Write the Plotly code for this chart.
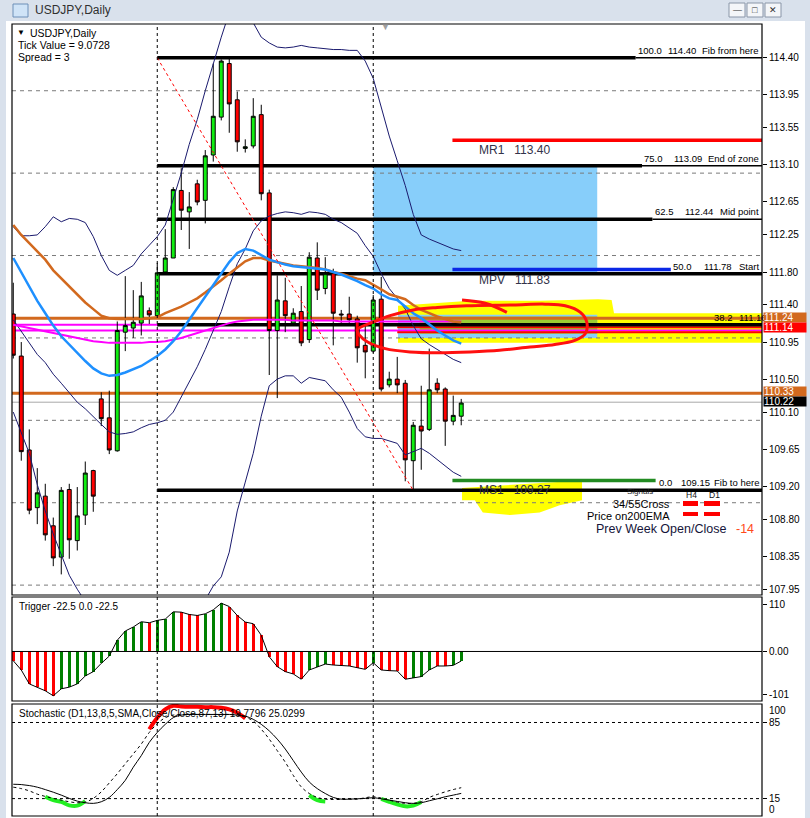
import plotly.graph_objects as go

# ---------------- DATA ----------------
idx = list(range(57))
opens = [111.29,110.78,109.64,108.94,109.08,108.72,108.34,109.16,108.54,108.85,
         109.39,110.26,110.03,109.63,111.07,111.12,111.18,111.33,111.27,111.80,
         111.97,112.79,112.53,112.87,112.67,113.22,113.68,114.33,113.89,113.30,
         113.33,113.71,112.76,111.09,111.45,111.18,111.32,110.98,111.97,111.60,
         111.78,111.29,111.29,111.23,110.91,110.84,111.47,110.43,110.50,110.45,
         109.51,109.93,109.89,110.45,110.38,109.99,110.05]
highs = [111.67,110.95,109.89,109.42,109.23,108.82,109.19,109.23,109.19,109.50,
         109.40,110.34,110.36,111.20,111.75,111.58,111.68,111.37,111.91,112.32,
         112.83,113.06,112.77,112.92,113.28,114.33,114.38,114.40,113.99,113.41,
         113.91,113.83,112.80,111.76,111.73,111.36,111.63,112.04,112.16,111.98,
         111.84,111.34,111.50,111.27,111.16,111.52,111.74,110.59,110.77,110.49,
         109.98,110.42,110.87,110.51,110.40,110.30,110.26]
lows = [110.75,109.51,108.86,108.74,108.54,108.23,108.13,108.32,108.42,108.73,
        108.89,109.93,109.59,109.62,110.84,111.00,111.03,111.17,111.27,111.78,
        111.97,112.31,112.08,112.61,112.39,113.14,113.64,113.49,113.26,113.25,
        113.30,112.67,110.55,110.27,111.07,111.15,110.90,110.94,111.46,111.53,
        110.91,111.17,111.17,110.70,110.51,110.82,110.35,110.40,110.33,109.26,
        109.15,109.40,109.87,110.33,109.69,109.94,109.94]
closes = [110.79,109.62,108.91,109.12,108.61,108.33,109.15,108.55,108.84,109.36,
          109.08,110.02,109.64,111.09,111.15,111.19,111.51,111.28,111.79,111.97,
          112.80,112.55,112.59,112.65,113.21,113.69,114.36,113.84,113.38,113.32,
          113.69,112.75,111.09,111.46,111.27,111.30,110.94,111.98,111.58,111.78,
          111.30,111.28,111.22,110.88,110.83,111.46,110.38,110.50,110.43,109.52,
          109.94,109.87,110.37,110.37,109.99,110.06,110.21]

bb_upper = [112.35,112.24,112.24,112.25,112.35,112.47,112.41,112.45,112.44,112.40,
            112.23,112.00,111.82,111.76,111.82,111.88,112.02,112.12,112.23,112.37,
            112.68,113.00,113.35,113.65,114.00,114.34,114.65,114.95,115.10,115.00,
            114.82,114.65,114.58,114.53,114.52,114.53,114.55,114.53,114.52,114.51,
            114.50,114.50,114.49,114.49,114.36,114.15,113.80,113.45,113.15,112.85,
            112.50,112.25,112.20,112.16,112.12,112.08,112.06]
bb_mid = [111.22,111.08,110.95,110.80,110.70,110.56,110.45,110.34,110.22,110.14,
          110.04,109.95,109.86,109.83,109.84,109.86,109.91,109.95,109.97,110.00,
          110.10,110.28,110.46,110.65,110.86,111.10,111.32,111.62,111.90,112.08,
          112.30,112.42,112.48,112.51,112.53,112.52,112.50,112.53,112.52,112.50,
          112.44,112.40,112.33,112.27,112.12,111.99,111.78,111.60,111.48,111.35,
          111.15,110.99,110.92,110.86,110.80,110.74,110.70]
bb_lower = [110.10,109.85,109.60,109.22,108.90,108.62,108.38,108.12,107.95,107.80,
            107.65,107.55,107.50,107.50,107.52,107.58,107.62,107.68,107.75,107.78,
            107.76,107.72,107.70,107.72,107.82,107.99,108.10,108.40,108.90,109.25,
            109.60,110.05,110.42,110.50,110.54,110.54,110.45,110.52,110.50,110.48,
            110.37,110.28,110.10,109.90,109.80,109.78,109.78,109.75,109.72,109.58,
            109.62,109.66,109.60,109.52,109.45,109.37,109.32]
ema_blue = [111.97,111.80,111.62,111.45,111.30,111.15,111.02,110.92,110.81,110.72,
            110.63,110.57,110.54,110.55,110.58,110.62,110.66,110.72,110.78,110.86,
            110.96,111.08,111.22,111.36,111.50,111.64,111.78,111.92,112.03,112.08,
            112.06,112.00,111.95,111.92,111.89,111.87,111.86,111.85,111.84,111.83,
            111.80,111.77,111.73,111.69,111.64,111.60,111.53,111.48,111.46,111.38,
            111.30,111.24,111.16,111.09,111.03,110.97,110.93]
ma_orange = [112.37,112.25,112.15,112.05,111.95,111.82,111.72,111.62,111.52,111.43,
             111.35,111.27,111.24,111.23,111.23,111.23,111.23,111.24,111.25,111.30,
             111.34,111.38,111.43,111.48,111.55,111.62,111.70,111.78,111.86,111.93,
             111.97,111.97,111.94,111.92,111.90,111.88,111.87,111.86,111.85,111.83,
             111.80,111.78,111.75,111.72,111.70,111.65,111.59,111.53,111.50,111.47,
             111.40,111.34,111.30,111.26,111.23,111.20,111.19]
ma_magenta = [111.16,111.14,111.12,111.10,111.08,111.06,111.04,111.02,111.00,110.98,
              110.96,110.95,110.94,110.94,110.94,110.94,110.94,110.95,110.95,110.96,
              110.98,111.00,111.03,111.06,111.09,111.12,111.15,111.18,111.20,111.21,
              111.22,111.22,111.22,111.22,111.22,111.21,111.21,111.21,111.21,111.21,
              111.21,111.20,111.20,111.20,111.20,111.20,111.20,111.20,111.20,111.20,
              111.20,111.20,111.20,111.20,111.20,111.20,111.20]

trigger_vals = [-21.9,-43.7,-76.5,-84.3,-92.9,-104.6,-88.2,-84.3,-76.5,-57.8,
                -47.6,-28.1,-10.9,26.5,48.4,57.8,70.3,67.9,73.4,76.5,
                93.7,92.9,87.4,85.1,89.0,98.4,114.0,106.2,85.1,69.5,
                65.6,38.3,-12.5,-35.9,-47.6,-53.1,-65.6,-43.7,-37.5,-29.7,
                -32.0,-32.8,-34.3,-38.3,-42.2,-26.5,-43.7,-45.3,-46.1,-65.6,
                -63.2,-59.3,-43.7,-34.3,-34.3,-32.8,-22.5]
trigger_dir = "rrrrrrggggggggggg" "rgggrrrgggrrrrrrrrrr" "gggrrrrrgrrrrggg" "rrgg"

stoch_main = [28.2,27.9,27.0,25.5,23.3,20.9,18.2,15.2,12.7,11.2,
              10.6,12.1,16.1,23.3,31.8,43.9,54.5,66.7,75.8,83.3,
              89.4,91.8,92.4,92.4,92.4,92.4,92.4,92.4,91.8,90.9,
              87.9,83.3,77.3,69.7,60.6,50.0,39.4,30.3,24.2,19.7,
              16.1,14.5,14.5,14.8,15.2,15.8,14.8,13.6,12.4,11.2,
              10.6,11.2,13.0,14.8,16.7,18.2,19.78]
stoch_signal = [25.5,24.2,22.1,19.1,17.0,15.2,13.6,12.1,11.2,11.8,
                15.2,21.2,29.4,37.9,47.0,56.1,65.2,75.8,83.9,89.4,
                91.8,92.4,92.4,92.4,92.4,92.4,92.4,92.4,92.4,90.0,
                86.4,78.8,69.7,59.1,48.5,36.4,25.8,19.7,16.1,14.5,
                14.2,14.2,14.5,14.5,15.8,16.7,15.5,13.6,11.8,10.6,
                10.6,12.1,16.1,18.8,21.2,23.3,25.03]
stoch_ob_idx = [17,18,19,20,21,22,23,24,25,26,27,28,29]
stoch_ob_vals = [78.8,89.4,97.0,100.3,99.7,99.4,99.4,99.1,99.1,98.5,97.0,93.9,88.8]
stoch_os_segments = [
    ([4,5,6,7,8,9], [16.7,13.6,12.1,8.8,8.5,12.7]),
    ([37,38,39], [18.2,13.6,12.4]),
    ([46,47,48,49,50,51], [14.8,12.1,9.7,7.9,8.5,11.8]),
]

price_ticks = [114.40,113.95,113.55,113.10,112.65,112.25,111.80,111.40,110.95,
               110.50,110.10,109.65,109.20,108.80,108.35,107.95]
grid_levels = [108,109,110,111,112,113,114]
fib_levels = [("100.0", 114.40, "Fib from here"), ("75.0", 113.09, "End of zone"),
              ("62.5", 112.44, "Mid point"), ("50.0", 111.78, "Start"),
              ("38.2", 111.16, ""), ("0.0", 109.15, "Fib to here")]
pivots = [("MR1", 113.40, "#FF0000"), ("MPV", 111.83, "#0A28E6"), ("MS1", 109.27, "#228B22")]
hlines_orange = [111.24, 110.33]
hlines_magenta = [111.16, 111.09]
hlines_red = [111.13, 111.07]
bid_price = 110.22
fib_from = (18, 114.40)
fib_to = (50, 109.15)
separators = [18, 45]

# ---------------- GEOMETRY ----------------
W, H = 810, 818
L, R, T, B = 12, 762, 24, 816
XR = [-0.16, 93.6]
def px(x):  # screen x -> paper
    return (x - L) / (R - L)
def py(y):  # screen y -> paper
    return (B - y) / (B - T)

FONT = "Liberation Sans, Arial, sans-serif"
fig = go.Figure()

for vals in (bb_upper, bb_mid, bb_lower):
    fig.add_trace(go.Scatter(x=idx, y=vals, mode="lines", line=dict(color="#1a1a6e", width=1),
                             hoverinfo="skip", showlegend=False))
fig.add_trace(go.Scatter(x=idx, y=ma_magenta, mode="lines", line=dict(color="#FF00FF", width=2),
                         hoverinfo="skip", showlegend=False))
fig.add_trace(go.Scatter(x=idx, y=ma_orange, mode="lines", line=dict(color="#D2691E", width=2.5),
                         hoverinfo="skip", showlegend=False))
fig.add_trace(go.Scatter(x=idx, y=ema_blue, mode="lines", line=dict(color="#1E90FF", width=2.5),
                         hoverinfo="skip", showlegend=False))
fig.add_trace(go.Scatter(x=[fib_from[0], fib_to[0]], y=[fib_from[1], fib_to[1]], mode="lines",
                         line=dict(color="#FF0000", width=1, dash="dot"), hoverinfo="skip", showlegend=False))
fig.add_trace(go.Candlestick(x=idx, open=opens, high=highs, low=lows, close=closes,
                             increasing=dict(line=dict(color="black", width=1), fillcolor="#11EE11"),
                             decreasing=dict(line=dict(color="black", width=1), fillcolor="#FF0000"),
                             whiskerwidth=0, hoverinfo="skip", showlegend=False))

# red hand-drawn ellipse
ell_k = [43.0, 45.2, 47.1, 50.0, 53.0, 56.7, 62.5, 66.5, 69.0, 70.9, 71.7, 71.5, 70.2, 67.7,
         64.6, 60.8, 57.1, 53.3, 49.6, 46.5, 44.3, 43.3, 43.0]
ell_p = [111.10, 111.20, 111.27, 111.34, 111.37, 111.39, 111.40, 111.41, 111.39, 111.31, 111.19,
         111.05, 110.97, 110.92, 110.89, 110.85, 110.83, 110.82, 110.83, 110.87, 110.95, 111.03, 111.10]
fig.add_trace(go.Scatter(x=ell_k, y=ell_p, mode="lines", line=dict(color="#FF1010", width=3, shape="spline"),
                         hoverinfo="skip", showlegend=False))
fig.add_trace(go.Scatter(x=[56.1, 59.0, 61.7], y=[111.46, 111.42, 111.31], mode="lines",
                         line=dict(color="#FF1010", width=3, shape="spline"), hoverinfo="skip", showlegend=False))

fig.add_trace(go.Bar(x=idx, y=trigger_vals, width=0.36,
                     marker=dict(color=["#008000" if c == "g" else "#FF0000" for c in trigger_dir], line=dict(width=0)),
                     xaxis="x2", yaxis="y2", hoverinfo="skip", showlegend=False))
fig.add_trace(go.Scatter(x=idx, y=trigger_vals, mode="lines", line=dict(color="black", width=1),
                         xaxis="x2", yaxis="y2", hoverinfo="skip", showlegend=False))

fig.add_trace(go.Scatter(x=stoch_ob_idx, y=stoch_ob_vals, mode="lines", line=dict(color="#FF0000", width=4, shape="spline"),
                         xaxis="x3", yaxis="y3", hoverinfo="skip", showlegend=False))
for sx, sy in stoch_os_segments:
    fig.add_trace(go.Scatter(x=sx, y=sy, mode="lines", line=dict(color="#22EE22", width=4, shape="spline"),
                             xaxis="x3", yaxis="y3", hoverinfo="skip", showlegend=False))
fig.add_trace(go.Scatter(x=idx, y=stoch_main, mode="lines", line=dict(color="black", width=1, shape="spline"),
                         xaxis="x3", yaxis="y3", hoverinfo="skip", showlegend=False))
fig.add_trace(go.Scatter(x=idx, y=stoch_signal, mode="lines", line=dict(color="black", width=1, dash="3px,3px", shape="spline"),
                         xaxis="x3", yaxis="y3", hoverinfo="skip", showlegend=False))

shapes = []
def hline(y, color, width, x0=XR[0], x1=XR[1], dash="solid", layer="above", yref="y"):
    shapes.append(dict(type="line", xref="x", yref=yref, x0=x0, x1=x1, y0=y, y1=y,
                       line=dict(color=color, width=width, dash=dash), layer=layer))

yellow1 = "M 48.1,111.39 L 57.1,111.45 L 65.8,111.45 L 73.1,111.47 L 74.8,111.46 L 75.1,111.30 L 93.6,111.30 L 93.6,110.94 L 74.8,110.94 L 48.1,110.94 Z"
yellow2 = "M 56.1,109.18 L 71.1,109.27 L 71.1,109.03 L 68.3,108.97 L 65.8,108.88 L 62.1,108.85 L 58.7,108.88 L 57.7,109.03 L 56.1,109.03 Z"
shapes.append(dict(type="path", xref="x", yref="y", path=yellow1, fillcolor="#FFFF00", line=dict(width=0), layer="below"))
shapes.append(dict(type="path", xref="x", yref="y", path=yellow2, fillcolor="#FFFF00", line=dict(width=0), layer="below"))
shapes.append(dict(type="rect", xref="x", yref="y", x0=45, x1=73, y0=111.80, y1=113.09,
                   fillcolor="#87CEFA", line=dict(width=0), layer="below"))
shapes.append(dict(type="rect", xref="x", yref="y", x0=48.1, x1=73, y0=111.00, y1=111.28,
                   fillcolor="#87CEFA", line=dict(width=0), layer="below"))
shapes.append(dict(type="rect", xref="x", yref="y", x0=50.8, x1=73, y0=111.05, y1=111.26,
                   fillcolor="#9ACD32", line=dict(width=0), layer="below"))

for g in grid_levels:
    hline(g, "#7a7a7a", 1, dash="4px,4px", layer="below")
for v in hlines_magenta:
    hline(v, "#FF00FF", 2, layer="below")
for v in hlines_orange:
    hline(v, "#D2691E", 3, layer="below")
hline(bid_price, "#A8A8A8", 1, layer="below")
for v in hlines_red:
    hline(v, "#FF0000", 2, x0=48.0, layer="below")
for name, v, col in pivots:
    x1 = {"MR1": XR[1], "MPV": 82.2, "MS1": 80.3}[name]
    hline(v, col, 3.5, x0=54.9, x1=x1, layer="below")
label_start = {"100.0": 77.8, "75.0": 78.6, "62.5": 79.9}
for lab, v, t in fib_levels:
    if lab in label_start:
        hline(v, "black", 3.5, x0=fib_from[0], x1=label_start[lab], layer="below")
        hline(v, "black", 1.5, x0=label_start[lab], x1=XR[1], layer="below")
    else:
        hline(v, "black", 3.5, x0=fib_from[0], x1=XR[1], layer="below")

for s in separators:
    shapes.append(dict(type="line", xref="x", yref="paper", x0=s, x1=s, y0=0, y1=1,
                       line=dict(color="black", width=1, dash="3px,3px"), layer="above"))
shapes.append(dict(type="line", xref="x2 domain", yref="y2", x0=0, x1=1, y0=0, y1=0, line=dict(color="black", width=1)))
for lv in [85, 15]:
    shapes.append(dict(type="line", xref="x3 domain", yref="y3", x0=0, x1=1, y0=lv, y1=lv,
                       line=dict(color="black", width=1, dash="3px,3px"), layer="below"))
for xa, ya in [("x", "y"), ("x2", "y2"), ("x3", "y3")]:
    shapes.append(dict(type="rect", xref=xa + " domain", yref=ya + " domain", x0=0, x1=1, y0=0, y1=1,
                       line=dict(color="black", width=1.2), fillcolor="rgba(0,0,0,0)", layer="above"))

# window chrome
shapes.append(dict(type="rect", xref="paper", yref="paper", x0=px(0), x1=px(810), y0=py(21), y1=py(0),
                   fillcolor="#D9E1EC", line=dict(width=0), layer="below"))
shapes.append(dict(type="rect", xref="paper", yref="paper", x0=px(0), x1=px(6), y0=py(818), y1=py(21),
                   fillcolor="#D9E1EC", line=dict(width=0), layer="below"))
shapes.append(dict(type="rect", xref="paper", yref="paper", x0=px(805), x1=px(810), y0=py(818), y1=py(21),
                   fillcolor="#D9E1EC", line=dict(width=0), layer="below"))
for bx in [729, 747, 765]:
    shapes.append(dict(type="rect", xref="paper", yref="paper", x0=px(bx), x1=px(bx + 16), y0=py(17), y1=py(3),
                       fillcolor="#F4F6F9", line=dict(color="#8A96A8", width=1), layer="above"))
shapes.append(dict(type="rect", xref="paper", yref="paper", x0=px(13), x1=px(28), y0=py(17), y1=py(4),
                   fillcolor="#CFE3F7", line=dict(color="#6C8FB8", width=1), layer="above"))
for (x0, x1, y0, y1) in [(683, 698, 501, 506), (704, 720, 501, 506), (683, 698, 512, 516), (704, 720, 512, 516)]:
    shapes.append(dict(type="rect", xref="paper", yref="paper", x0=px(x0), x1=px(x1), y0=py(y1), y1=py(y0),
                       fillcolor="#FF0000", line=dict(width=0), layer="above"))

ann = []
def txt(text, x, y, size=10, color="black", xanchor="left", yanchor="middle", xref="paper", yref="paper", **kw):
    ann.append(dict(text=text, x=x, y=y, xref=xref, yref=yref, xanchor=xanchor, yanchor=yanchor,
                    showarrow=False, font=dict(family=FONT, size=size, color=color), **kw))

txt("USDJPY,Daily", px(33), py(10), size=12, color="#303030")
for bx, sym in [(729, "—"), (747, "□"), (765, "✕")]:
    txt(sym, px(bx + 8), py(10), size=9, color="#303030", xanchor="center")
txt("▼", px(15), py(33), size=8)
txt("USDJPY,Daily", px(28), py(33), size=10.5)
txt("Tick Value = 9.0728", px(16), py(45), size=10.5)
txt("Spread = 3", px(16), py(57), size=10.5)
txt("▼", px(385), py(27), size=9, color="#A0A0A0", xanchor="center")

fib_text_pos = {"100.0": (636, 666, 761), "75.0": (642, 672, 761), "62.5": (653, 683, 761),
                "50.0": (671, 702, 761), "38.2": (712, 737, 761), "0.0": (657, 679, 761)}
for lab, v, t in fib_levels:
    a, b, c = fib_text_pos[lab]
    txt(lab, px(a), v, size=9.5, yref="y", yanchor="bottom", yshift=0)
    txt(f"{v:.2f}", px(b), v, size=9.5, yref="y", yanchor="bottom", yshift=0)
    if t:
        txt(t, px(c), v, size=9.5, yref="y", yanchor="bottom", xanchor="right", yshift=0)
for name, v, col in pivots:
    txt(f"{name}   {v:.2f}", px(477), v, size=12, color="#33334a", yref="y", yanchor="top", yshift=-1)

txt("Signals", px(655), py(492), size=8, color="#222", xanchor="right")
txt("H4", px(684), py(495), size=8.5, color="#111")
txt("D1", px(707), py(495), size=8.5, color="#111")
txt("34/55Cross", px(672), py(504), size=11, xanchor="right")
txt("Price on200EMA", px(672), py(516), size=11, xanchor="right")
txt("Prev Week Open/Close", px(594), py(529), size=12.5, color="#15153a")
txt("-14", px(734), py(529), size=12.5, color="#FF4A1A")

txt("Trigger -22.5 0.0 -22.5", px(17), py(606), size=10)
txt("Stochastic (D1,13,8,5,SMA,Close/Close,87,13) 19.7796 25.0299", px(17), py(713), size=10)

txt("100", px(767), py(710), size=10)
txt("0", px(767), py(809), size=10)

for v, bg, fg, sh in [(111.24, "#D2691E", "white", 1), (111.14, "#FF0000", "white", -1),
                      (110.33, "#D2691E", "white", 2), (bid_price, "#000000", "white", 1)]:
    ann.append(dict(text=f"{v:.2f}", x=1.0, y=v, xref="paper", yref="y", xanchor="left", yanchor="middle",
                    xshift=1, yshift=sh, showarrow=False, bgcolor=bg, width=42, height=9, align="left",
                    valign="middle", borderpad=0, font=dict(family=FONT, size=10, color=fg)))

axis_common = dict(showgrid=False, zeroline=False, showline=False, ticks="outside", ticklen=4,
                   tickcolor="black", tickfont=dict(family=FONT, size=10, color="black"), side="right")
fig.update_layout(
    width=W, height=H, margin=dict(l=L, r=W - R, t=T, b=H - B),
    paper_bgcolor="white", plot_bgcolor="white", showlegend=False, bargap=0,
    xaxis=dict(domain=[0, 1], range=XR, visible=False, anchor="y", rangeslider=dict(visible=False)),
    xaxis2=dict(domain=[0, 1], range=XR, visible=False, anchor="y2", matches="x"),
    xaxis3=dict(domain=[0, 1], range=XR, visible=False, anchor="y3", matches="x"),
    yaxis=dict(domain=[py(595), 1], range=[107.88, 114.81], anchor="x", tickmode="array",
               tickvals=price_ticks, ticktext=[f"{t:.2f}" for t in price_ticks], **axis_common),
    yaxis2=dict(domain=[py(701), py(597)], range=[-117, 128.7], anchor="x2", tickmode="array",
                tickvals=[110, 0, -101], ticktext=["110", "0.00", "-101"], **axis_common),
    yaxis3=dict(domain=[0, py(704)], range=[-1, 102], anchor="x3", tickmode="array",
                tickvals=[85, 15], ticktext=["85", "15"], **axis_common),
    shapes=shapes, annotations=ann, boxgap=0.3,
)
fig.write_html("out.html", config={"displayModeBar": False},
               post_script="document.body.style.margin='0px';document.body.style.overflow='hidden';")
